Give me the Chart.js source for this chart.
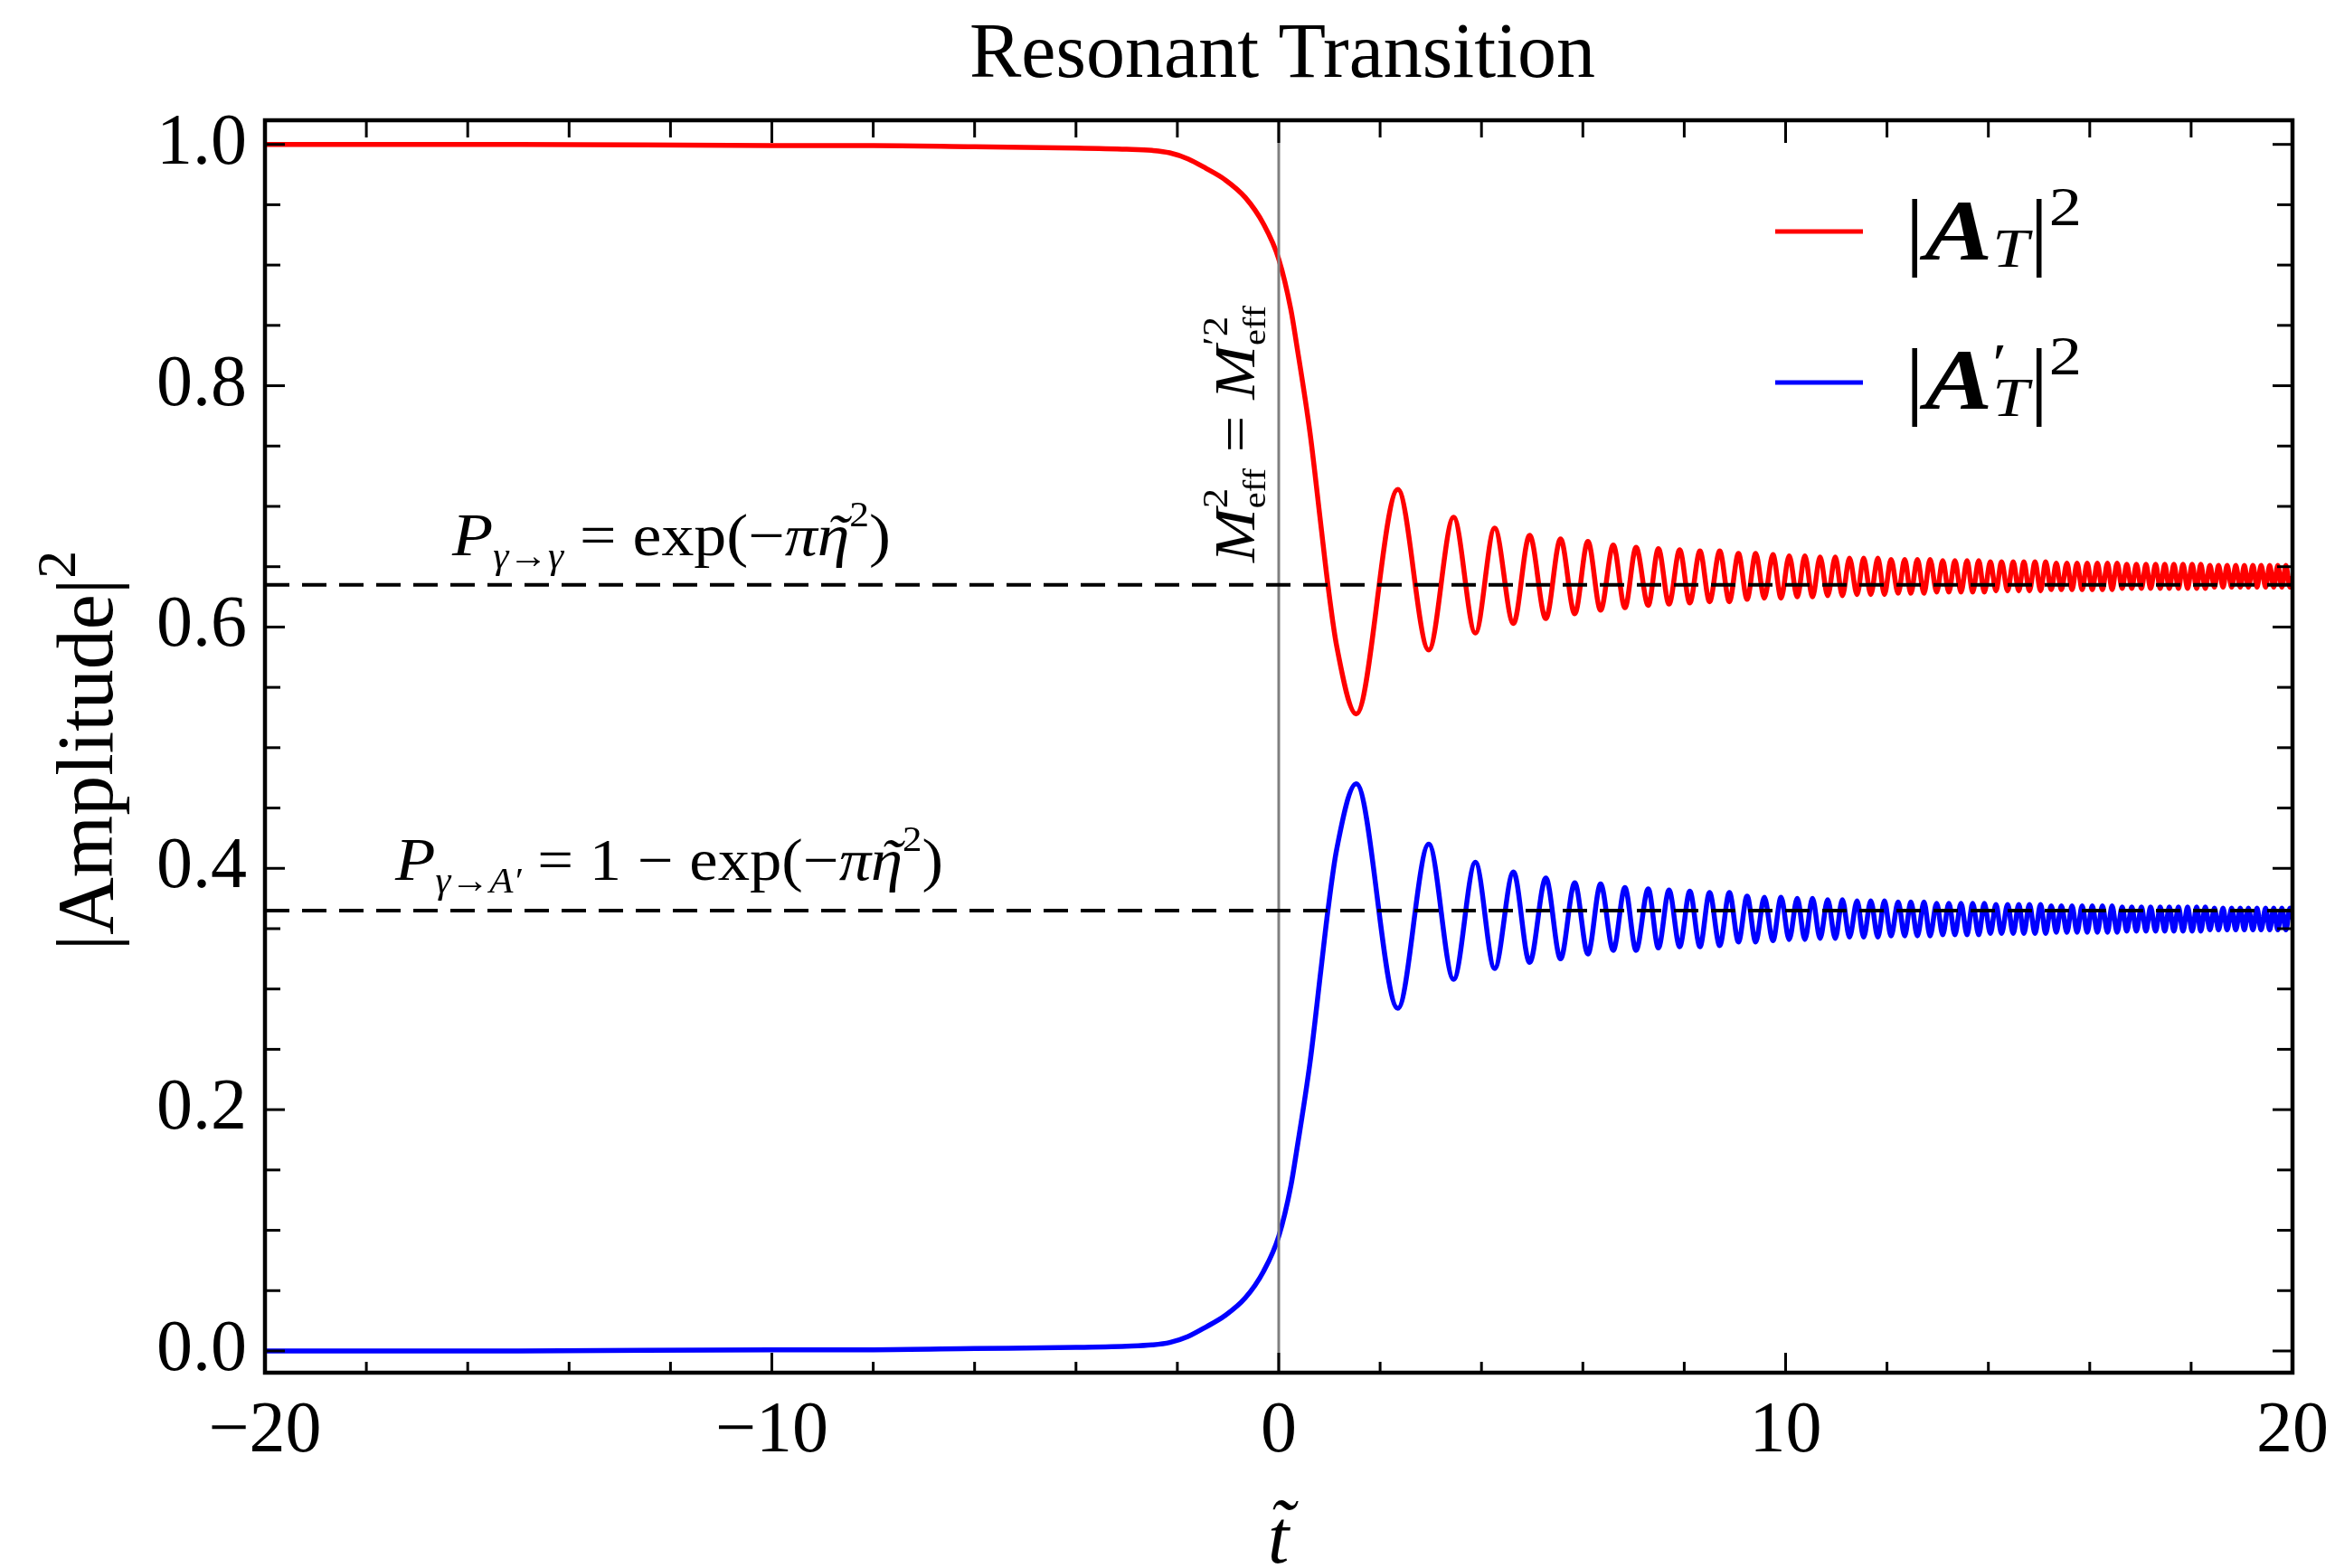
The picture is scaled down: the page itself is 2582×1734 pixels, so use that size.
<!DOCTYPE html>
<html>
<head>
<meta charset="utf-8">
<title>Resonant Transition</title>
<script src="https://cdn.jsdelivr.net/npm/chart.js@4.4.1/dist/chart.umd.min.js"></script>
<style>
  html, body { margin: 0; padding: 0; background: #fff; }
</style>
</head>
<body>
<canvas id="grafica" width="2582" height="1734"></canvas>
<script>
const SERIF = "'Liberation Serif', 'Times New Roman', serif";

// Tiempos t~ (los mismos para las dos curvas)
const tiempos = [
  -20, -15, -10, -8, -6, -4, -3, -2.5, -2.15, -1.79, -1.43, -1.07, -0.66, -0.3, 0, 0.24, 0.35, 0.62, 0.83, 0.97, 1.14,
  1.53, 2.35, 2.96, 3.45, 3.88, 4.26, 4.63, 4.95, 5.27, 5.56, 5.84, 6.10, 6.35, 6.60, 6.83, 7.05, 7.29, 7.49, 7.70, 7.91, 8.11, 8.31, 8.50, 8.70, 8.89,
  9.07, 9.24, 9.41, 9.58, 9.75, 9.91, 10.07, 10.23, 10.38, 10.53, 10.68, 10.83, 10.98, 11.12, 11.26, 11.41, 11.54, 11.68, 11.82, 11.95,
  12.08, 12.22, 12.35, 12.47, 12.60, 12.73, 12.85, 12.98, 13.10, 13.22, 13.34, 13.46, 13.58, 13.69, 13.81, 13.92,
  14.04, 14.15, 14.26, 14.38, 14.49, 14.60, 14.70, 14.81, 14.92, 15.03, 15.13, 15.24, 15.34, 15.44, 15.55, 15.65, 15.75, 15.85, 15.95,
  16.05, 16.15, 16.25, 16.35, 16.44, 16.54, 16.64, 16.73, 16.83, 16.92, 17.02, 17.11, 17.20, 17.30, 17.39, 17.48, 17.57, 17.66, 17.75, 17.84, 17.93,
  18.02, 18.11, 18.19, 18.28, 18.37, 18.46, 18.54, 18.63, 18.71, 18.80, 18.88, 18.97, 19.05, 19.13, 19.22, 19.30, 19.38, 19.47, 19.55, 19.63, 19.71, 19.79, 19.87, 19.95,
  20
];

// |A_T|^2 (rojo)
const ampFoton = [
  1.000, 1.000, 0.999, 0.999, 0.998, 0.997, 0.996, 0.995, 0.993, 0.988, 0.980, 0.971, 0.956, 0.934, 0.905, 0.863, 0.835, 0.760, 0.685, 0.635, 0.585,
  0.528, 0.714, 0.581, 0.691, 0.595, 0.682, 0.603, 0.676, 0.607, 0.673, 0.611, 0.671, 0.614, 0.668, 0.616, 0.666, 0.618, 0.665, 0.619, 0.664, 0.620, 0.663, 0.621, 0.663, 0.621,
  0.661, 0.623, 0.661, 0.624, 0.660, 0.624, 0.659, 0.625, 0.659, 0.625, 0.658, 0.626, 0.658, 0.626, 0.657, 0.627, 0.657, 0.627, 0.657, 0.627,
  0.656, 0.628, 0.656, 0.628, 0.656, 0.628, 0.656, 0.629, 0.655, 0.629, 0.655, 0.629, 0.655, 0.629, 0.655, 0.629,
  0.654, 0.630, 0.654, 0.630, 0.654, 0.630, 0.654, 0.630, 0.654, 0.630, 0.654, 0.631, 0.653, 0.631, 0.653, 0.631, 0.653, 0.631, 0.653,
  0.631, 0.653, 0.631, 0.653, 0.631, 0.653, 0.632, 0.652, 0.632, 0.652, 0.632, 0.652, 0.632, 0.652, 0.632, 0.652, 0.632, 0.652, 0.632, 0.652, 0.632,
  0.652, 0.632, 0.652, 0.632, 0.651, 0.633, 0.651, 0.633, 0.651, 0.633, 0.651, 0.633, 0.651, 0.633, 0.651, 0.633, 0.651, 0.633, 0.651, 0.633, 0.651, 0.633, 0.651, 0.633,
  0.642
];

// |A'_T|^2 (azul)
const ampOscuro = [
  0.000, 0.000, 0.001, 0.001, 0.002, 0.003, 0.004, 0.005, 0.007, 0.012, 0.020, 0.029, 0.044, 0.066, 0.095, 0.137, 0.165, 0.240, 0.315, 0.365, 0.415,
  0.470, 0.284, 0.420, 0.308, 0.405, 0.317, 0.397, 0.322, 0.392, 0.325, 0.388, 0.329, 0.387, 0.332, 0.384, 0.332, 0.383, 0.334, 0.382, 0.335, 0.381, 0.335, 0.380, 0.336, 0.380,
  0.339, 0.377, 0.339, 0.376, 0.340, 0.376, 0.341, 0.375, 0.341, 0.375, 0.342, 0.374, 0.342, 0.374, 0.343, 0.373, 0.343, 0.373, 0.343, 0.373,
  0.344, 0.372, 0.344, 0.372, 0.344, 0.372, 0.344, 0.371, 0.345, 0.371, 0.345, 0.371, 0.345, 0.371, 0.345, 0.371,
  0.346, 0.370, 0.346, 0.370, 0.346, 0.370, 0.346, 0.370, 0.346, 0.370, 0.346, 0.369, 0.347, 0.369, 0.347, 0.369, 0.347, 0.369, 0.347,
  0.369, 0.347, 0.369, 0.347, 0.369, 0.347, 0.368, 0.348, 0.368, 0.348, 0.368, 0.348, 0.368, 0.348, 0.368, 0.348, 0.368, 0.348, 0.368, 0.348, 0.368,
  0.348, 0.368, 0.348, 0.368, 0.349, 0.367, 0.349, 0.367, 0.349, 0.367, 0.349, 0.367, 0.349, 0.367, 0.349, 0.367, 0.349, 0.367, 0.349, 0.367, 0.349, 0.367, 0.349, 0.367,
  0.358
];

// Niveles asintóticos (líneas discontinuas)
const pFotonFoton = 0.635;
const pFotonOscuro = 0.365;

// Ejes
const limitesX = [-20, 20];
const limitesY = [-0.018, 1.02];
const marcasMayoresX = [-20, -10, 0, 10, 20];
const marcasMenoresX = [-18, -16, -14, -12, -8, -6, -4, -2, 2, 4, 6, 8, 12, 14, 16, 18];
const marcasMayoresY = [0, 0.2, 0.4, 0.6, 0.8, 1.0];
const marcasMenoresY = [0.05, 0.1, 0.15, 0.25, 0.3, 0.35, 0.45, 0.5, 0.55, 0.65, 0.7, 0.75, 0.85, 0.9, 0.95];

const rojo = "#ff0000";
const azul = "#0000ff";

const rm = (s) => `${s}px ${SERIF}`;
const it = (s) => `italic ${s}px ${SERIF}`;
const bi = (s) => `italic bold ${s}px ${SERIF}`;

const aPuntos = (valores) => tiempos.map((t, i) => ({ x: t, y: valores[i] }));

// Escribe un texto por trozos (subíndices, superíndices...) sobre la línea base y
function escribir(ctx, partes, x, y, opciones = {}) {
  let total = 0;
  for (const p of partes) {
    ctx.font = p.f;
    if (!p.pila) total += ctx.measureText(p.t).width;
  }
  ctx.save();
  ctx.translate(x, y);
  if (opciones.ancho) ctx.scale(opciones.ancho / total, 1);
  let cx = opciones.centrado ? -total / 2 : 0;
  ctx.textAlign = "left";
  ctx.textBaseline = "alphabetic";
  ctx.fillStyle = "#000";
  for (const p of partes) {
    ctx.font = p.f;
    const w = ctx.measureText(p.t).width;
    ctx.fillText(p.t, cx, p.dy || 0);
    if (p.tilde) {
      ctx.textAlign = "center";
      ctx.fillText("˜", cx + w * 0.62, (p.dy || 0) + (p.tildeDy || 0));
      ctx.textAlign = "left";
    }
    if (!p.pila) cx += w;
  }
  ctx.restore();
}

const fondo = {
  id: "fondo",
  beforeDraw(chart) {
    const ctx = chart.ctx;
    ctx.save();
    ctx.fillStyle = "#fff";
    ctx.fillRect(0, 0, chart.width, chart.height);
    ctx.restore();
  }
};

// Marco con marcas hacia dentro en los cuatro lados
const marco = {
  id: "marco",
  afterDraw(chart) {
    const { ctx, chartArea: a, scales } = chart;
    ctx.save();
    ctx.strokeStyle = "#000";
    ctx.lineWidth = 3;
    const linea = (x1, y1, x2, y2) => {
      ctx.beginPath();
      ctx.moveTo(x1, y1);
      ctx.lineTo(x2, y2);
      ctx.stroke();
    };
    const xs = [...marcasMayoresX.map(v => [v, 22, 25]), ...marcasMenoresX.map(v => [v, 12, 19])];
    for (const [v, abajo, arriba] of xs) {
      const px = scales.x.getPixelForValue(v);
      linea(px, a.bottom, px, a.bottom - abajo);
      linea(px, a.top, px, a.top + arriba);
    }
    const ys = [...marcasMayoresY.map(v => [v, 22]), ...marcasMenoresY.map(v => [v, 17])];
    for (const [v, largo] of ys) {
      const py = scales.y.getPixelForValue(v);
      linea(a.left, py, a.left + largo, py);
      linea(a.right, py, a.right - largo, py);
    }
    ctx.lineWidth = 4.5;
    ctx.strokeRect(a.left, a.top, a.right - a.left, a.bottom - a.top);
    ctx.restore();
  }
};

// Títulos, anotaciones y leyenda
const textos = {
  id: "textos",
  afterDraw(chart) {
    const { ctx, chartArea: a, scales } = chart;
    const cx = (a.left + a.right) / 2;

    ctx.save();
    ctx.fillStyle = "#000";
    ctx.font = rm(86);
    ctx.textAlign = "center";
    ctx.fillText("Resonant Transition", cx + 4, 85);

    // eje x: t con tilde
    const px0 = scales.x.getPixelForValue(0);
    escribir(ctx, [{ t: "t", f: it(84), tilde: true, tildeDy: -12 }], px0 - 12, 1728);

    // eje y
    ctx.save();
    ctx.translate(124, 830);
    ctx.rotate(-Math.PI / 2);
    escribir(ctx, [
      { t: "|Amplitude|", f: rm(88) },
      { t: "2", f: rm(62), dy: -41 }
    ], 0, 0, { centrado: true });
    ctx.restore();

    // niveles
    escribir(ctx, [
      { t: "P", f: it(68) },
      { t: "γ→γ", f: it(40), dy: 14 },
      { t: " = exp(−", f: rm(66) },
      { t: "π", f: it(66) },
      { t: "η", f: it(66), tilde: true },
      { t: "2", f: rm(40), dy: -32 },
      { t: ")", f: rm(66) }
    ], 500, 614, { ancho: 485 });

    escribir(ctx, [
      { t: "P", f: it(68) },
      { t: "γ→A′", f: it(40), dy: 14 },
      { t: " = 1 − exp(−", f: rm(66) },
      { t: "π", f: it(66) },
      { t: "η", f: it(66), tilde: true },
      { t: "2", f: rm(40), dy: -32 },
      { t: ")", f: rm(66) }
    ], 437, 973, { ancho: 606 });

    // condición de resonancia, vertical junto a t = 0
    ctx.save();
    ctx.translate(1387, 622);
    ctx.rotate(-Math.PI / 2);
    escribir(ctx, [
      { t: "M", f: it(64) },
      { t: "2", f: rm(40), dy: -30, pila: true },
      { t: "eff", f: rm(36), dy: 12 },
      { t: " = ", f: rm(64) },
      { t: "M", f: it(64) },
      { t: "′2", f: rm(40), dy: -30, pila: true },
      { t: "eff", f: rm(36), dy: 12 }
    ], 0, 0, { ancho: 284 });
    ctx.restore();

    // leyenda
    const filas = [
      { color: chart.data.datasets[0].borderColor, y: 256, base: 287, prima: false },
      { color: chart.data.datasets[1].borderColor, y: 423, base: 452, prima: true }
    ];
    for (const f of filas) {
      ctx.strokeStyle = f.color;
      ctx.lineWidth = 5;
      ctx.beginPath();
      ctx.moveTo(1963, f.y);
      ctx.lineTo(2060, f.y);
      ctx.stroke();
      const partes = [
        { t: "|", f: rm(96) },
        { t: "A", f: bi(96) }
      ];
      if (f.prima) partes.push({ t: "′", f: rm(62), dy: -30, pila: true });
      partes.push({ t: "T", f: it(62), dy: 8 });
      partes.push({ t: "|", f: rm(96) });
      partes.push({ t: "2", f: rm(62), dy: -38 });
      escribir(ctx, partes, 2106, f.base, { ancho: 196 });
    }
    ctx.restore();
  }
};

const comunes = { pointRadius: 0, pointHoverRadius: 0, fill: false };

new Chart(document.getElementById("grafica"), {
  type: "line",
  data: {
    datasets: [
      { ...comunes, label: "|A_T|^2", data: aPuntos(ampFoton), borderColor: rojo, borderWidth: 5.5, cubicInterpolationMode: "monotone", order: 3 },
      { ...comunes, label: "|A'_T|^2", data: aPuntos(ampOscuro), borderColor: azul, borderWidth: 5.5, cubicInterpolationMode: "monotone", order: 3 },
      { ...comunes, label: "P γ→γ", data: [{ x: limitesX[0], y: pFotonFoton }, { x: limitesX[1], y: pFotonFoton }], borderColor: "#000", borderWidth: 4, borderDash: [27, 14], order: 1 },
      { ...comunes, label: "P γ→A'", data: [{ x: limitesX[0], y: pFotonOscuro }, { x: limitesX[1], y: pFotonOscuro }], borderColor: "#000", borderWidth: 4, borderDash: [27, 14], order: 1 },
      { ...comunes, label: "resonancia", data: [{ x: 0, y: limitesY[0] }, { x: 0, y: limitesY[1] }], borderColor: "#808080", borderWidth: 3, order: 2 }
    ]
  },
  options: {
    responsive: false,
    devicePixelRatio: 1,
    animation: false,
    layout: { padding: { left: 0, top: 133, right: 47, bottom: 0 } },
    plugins: {
      legend: { display: false },
      title: { display: false },
      tooltip: { enabled: false }
    },
    scales: {
      x: {
        type: "linear",
        min: limitesX[0],
        max: limitesX[1],
        grid: { display: false },
        border: { display: false },
        afterFit: (s) => { s.height = 216; },
        ticks: {
          stepSize: 10,
          includeBounds: false,
          maxRotation: 0,
          autoSkip: false,
          padding: 0,
          color: "#000",
          font: { family: SERIF, size: 80, lineHeight: 1.45 },
          callback: (v) => (v < 0 ? "−" + Math.abs(v) : String(v))
        }
      },
      y: {
        type: "linear",
        min: limitesY[0],
        max: limitesY[1],
        grid: { display: false },
        border: { display: false },
        afterFit: (s) => { s.width = 293; },
        ticks: {
          stepSize: 0.2,
          includeBounds: false,
          padding: 12,
          color: "#000",
          font: { family: SERIF, size: 80 },
          callback: (v) => v.toFixed(1)
        }
      }
    }
  },
  plugins: [fondo, marco, textos]
});
</script>
</body>
</html>
